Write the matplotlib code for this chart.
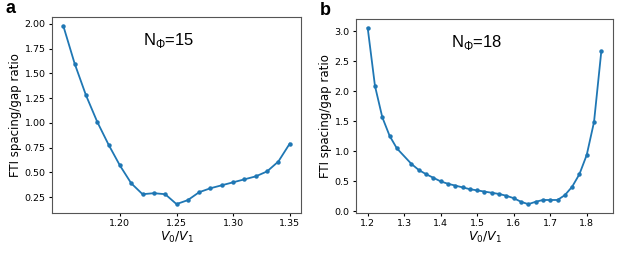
import numpy as np
import matplotlib
matplotlib.use("Agg")
import matplotlib.pyplot as plt

# panel a, N_phi = 15
x_a = [1.15, 1.16, 1.17, 1.18, 1.19, 1.20, 1.21, 1.22, 1.23, 1.24, 1.25,
       1.26, 1.27, 1.28, 1.29, 1.30, 1.31, 1.32, 1.33, 1.34, 1.35]
y_a = [1.98, 1.60, 1.28, 1.01, 0.78, 0.57, 0.39, 0.28, 0.29, 0.28, 0.18,
       0.22, 0.30, 0.34, 0.37, 0.40, 0.43, 0.46, 0.51, 0.61, 0.79]

# panel b, N_phi = 18
x_b = [1.20, 1.22, 1.24, 1.26, 1.28, 1.32, 1.34, 1.36, 1.38, 1.40, 1.42,
       1.44, 1.46, 1.48, 1.50, 1.52, 1.54, 1.56, 1.58, 1.60, 1.62, 1.64,
       1.66, 1.68, 1.70, 1.72, 1.74, 1.76, 1.78, 1.80, 1.82, 1.84]
y_b = [3.06, 2.09, 1.57, 1.26, 1.05, 0.79, 0.69, 0.62, 0.56, 0.50, 0.46,
       0.43, 0.40, 0.37, 0.35, 0.33, 0.31, 0.29, 0.26, 0.22, 0.16, 0.12,
       0.16, 0.19, 0.19, 0.19, 0.27, 0.41, 0.62, 0.94, 1.49, 2.67]

xticks_a = [1.20, 1.25, 1.30, 1.35]
xticks_b = [1.2, 1.3, 1.4, 1.5, 1.6, 1.7, 1.8]

plt.rcParams["mathtext.rm"] = "Liberation Sans"

fig = plt.figure(figsize=(6.23, 2.57), dpi=100)
ax1 = fig.add_axes([52/623, 1 - 213/257, 249/623, 196/257])
ax2 = fig.add_axes([356/623, 1 - 213/257, 257/623, 194/257])

panels = [(ax1, x_a, y_a, "15", "a", -0.185), (ax2, x_b, y_b, "18", "b", -0.14)]
for ax, x, y, lab, letter, lx in panels:
    ax.plot(x, y, "-o", color="#1f77b4", markersize=2.2, linewidth=1.3)
    ax.set_xlabel(r"$V_0/V_1$", fontsize=9, labelpad=1)
    ax.set_ylabel("FTI spacing/gap ratio", fontsize=8.5, labelpad=2)
    ax.tick_params(labelsize=6.8, length=2.5, pad=2)
    for s in ax.spines.values():
        s.set_color("#555555")
    ax.text(0.47, 0.88, r"N$_{\Phi}$=" + lab, transform=ax.transAxes,
            ha="center", va="center", fontsize=12, family="Liberation Sans",
            math_fontfamily="custom")
    ax.text(lx, 1.045, letter, transform=ax.transAxes, fontsize=13,
            fontweight="bold", family="Liberation Sans", va="center")

ax1.set_xticks(xticks_a)
ax1.set_xticklabels(["%.2f" % t for t in xticks_a])
ax2.set_xticks(xticks_b)
ax2.set_xticklabels(["%.1f" % t for t in xticks_b])

fig.savefig("out.png", dpi=100)
